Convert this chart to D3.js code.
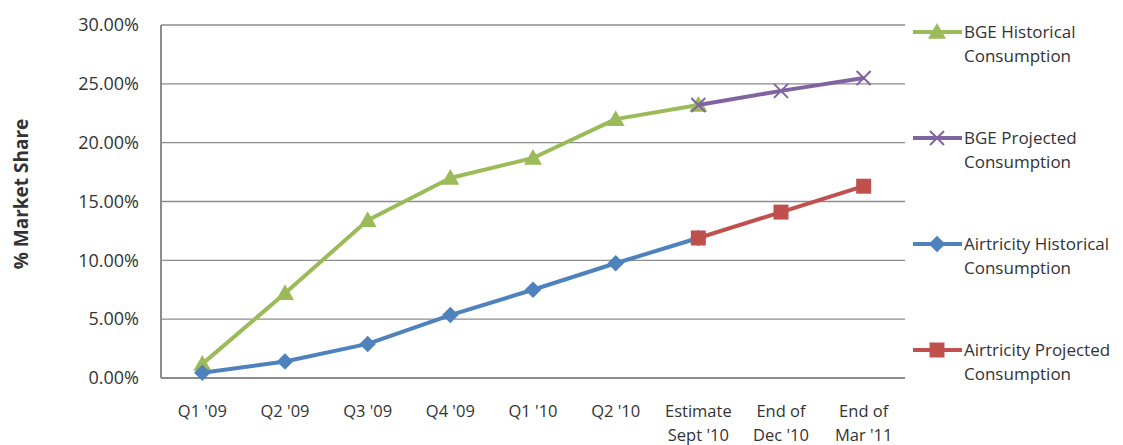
<!DOCTYPE html>
<html>
<head>
<meta charset="utf-8">
<script src="https://cdn.jsdelivr.net/npm/d3@7"></script>
<style>
  body { margin: 0; background: #fff; }
  text { font-family: "Open Sans", sans-serif; fill: #333; }
</style>
</head>
<body>
<div id="chart"></div>
<script>
// categories along the x axis (two-line labels split on \n)
var categories = ["Q1 '09", "Q2 '09", "Q3 '09", "Q4 '09", "Q1 '10", "Q2 '10",
  "Estimate\nSept '10", "End of\nDec '10", "End of\nMar '11"];

// series values in % (null = no point)
var bgeHistorical = [1.2, 7.2, 13.4, 17.0, 18.7, 22.0, 23.2, null, null];
var bgeProjected = [null, null, null, null, null, null, 23.2, 24.4, 25.5];
var airHistorical = [0.45, 1.4, 2.9, 5.35, 7.5, 9.75, 11.9, null, null];
var airProjected = [null, null, null, null, null, null, 11.9, 14.1, 16.3];

var yTicks = [0, 5, 10, 15, 20, 25, 30];

var series = [
  { name: ["BGE Historical", "Consumption"], values: bgeHistorical, color: "#9bbb59", marker: "triangle" },
  { name: ["BGE Projected", "Consumption"], values: bgeProjected, color: "#8064a2", marker: "x" },
  { name: ["Airtricity Historical", "Consumption"], values: airHistorical, color: "#4f81bd", marker: "diamond" },
  { name: ["Airtricity Projected", "Consumption"], values: airProjected, color: "#c0504d", marker: "square" }
];

var width = 1123, height = 445;
var plotLeft = 161, plotRight = 905, plotTop = 25, plotBottom = 378;

var svg = d3.select("#chart").append("svg")
  .attr("width", width)
  .attr("height", height);

var x = d3.scalePoint().domain(categories).range([plotLeft, plotRight]).padding(0.5);
var y = d3.scaleLinear().domain([0, 30]).range([plotBottom, plotTop]);

// gridlines
svg.append("g")
  .selectAll("line")
  .data(yTicks.filter(d => d > 0))
  .enter()
  .append("line")
  .attr("x1", plotLeft).attr("x2", plotRight)
  .attr("y1", d => y(d)).attr("y2", d => y(d))
  .attr("stroke", "#8c8c8c")
  .attr("stroke-width", 1.3);

// axis lines
svg.append("line")
  .attr("x1", plotLeft).attr("x2", plotRight)
  .attr("y1", plotBottom).attr("y2", plotBottom)
  .attr("stroke", "#8c8c8c").attr("stroke-width", 2);
svg.append("line")
  .attr("x1", plotLeft).attr("x2", plotLeft)
  .attr("y1", plotTop).attr("y2", plotBottom)
  .attr("stroke", "#8c8c8c").attr("stroke-width", 2);

// y tick labels
svg.append("g")
  .selectAll("text")
  .data(yTicks)
  .enter()
  .append("text")
  .attr("x", 139)
  .attr("y", d => y(d))
  .attr("dy", "0.35em")
  .attr("text-anchor", "end")
  .style("font-size", "18px")
  .text(d => d.toFixed(2) + "%");

// x labels
var xl = svg.append("g")
  .selectAll("text")
  .data(categories)
  .enter()
  .append("text")
  .attr("text-anchor", "middle")
  .style("font-size", "16.5px")
  .attr("transform", d => "translate(" + x(d) + ",417)");
xl.selectAll("tspan")
  .data(d => d.split("\n"))
  .enter()
  .append("tspan")
  .attr("x", 0)
  .attr("y", (d, i) => i * 24)
  .text(d => d);

// y axis title
svg.append("text")
  .attr("transform", "translate(21,194) rotate(-90)")
  .attr("text-anchor", "middle")
  .attr("dy", "0.35em")
  .style("font-size", "19px")
  .style("font-weight", "bold")
  .text("% Market Share");

function markerPath(type, s) {
  if (type === "triangle") return "M0," + (-s * 0.6) + "L" + (s * 0.6) + "," + (s * 0.45) + "L" + (-s * 0.6) + "," + (s * 0.45) + "Z";
  if (type === "diamond") return "M0," + (-s * 0.55) + "L" + (s * 0.55) + ",0L0," + (s * 0.55) + "L" + (-s * 0.55) + ",0Z";
  if (type === "square") return "M" + (-s / 2) + "," + (-s / 2) + "h" + s + "v" + s + "h" + (-s) + "Z";
  var h = s / 2;
  return "M" + (-h) + "," + (-h) + "L" + h + "," + h + "M" + h + "," + (-h) + "L" + (-h) + "," + h;
}

function drawMarker(g, type, color, cx, cy) {
  var p = g.append("path")
    .attr("d", markerPath(type, type === "x" ? 14 : 15))
    .attr("transform", "translate(" + cx + "," + cy + ")");
  if (type === "x") p.attr("fill", "none").attr("stroke", color).attr("stroke-width", 2);
  else p.attr("fill", color);
}

var line = d3.line()
  .defined(d => d.v !== null)
  .x(d => x(d.c))
  .y(d => y(d.v));

series.forEach(function(s) {
  var pts = s.values.map((v, i) => ({ c: categories[i], v: v }));
  var g = svg.append("g");
  g.append("path")
    .datum(pts)
    .attr("d", line)
    .attr("fill", "none")
    .attr("stroke", s.color)
    .attr("stroke-width", 4)
    .attr("stroke-linejoin", "round");
  pts.filter(d => d.v !== null).forEach(function(d) {
    drawMarker(g, s.marker, s.color, x(d.c), y(d.v));
  });
});

// legend
series.forEach(function(s, i) {
  var ly = 32 + i * 106;
  var g = svg.append("g");
  g.append("line")
    .attr("x1", 913).attr("x2", 962)
    .attr("y1", ly).attr("y2", ly)
    .attr("stroke", s.color).attr("stroke-width", 4);
  drawMarker(g, s.marker, s.color, 937, ly);
  g.append("text")
    .attr("x", 964)
    .attr("y", ly)
    .attr("dy", "0.35em")
    .style("font-size", "17px")
    .text(s.name[0]);
  g.append("text")
    .attr("x", 964)
    .attr("y", ly + 24)
    .attr("dy", "0.35em")
    .style("font-size", "17px")
    .text(s.name[1]);
});
</script>
</body>
</html>
